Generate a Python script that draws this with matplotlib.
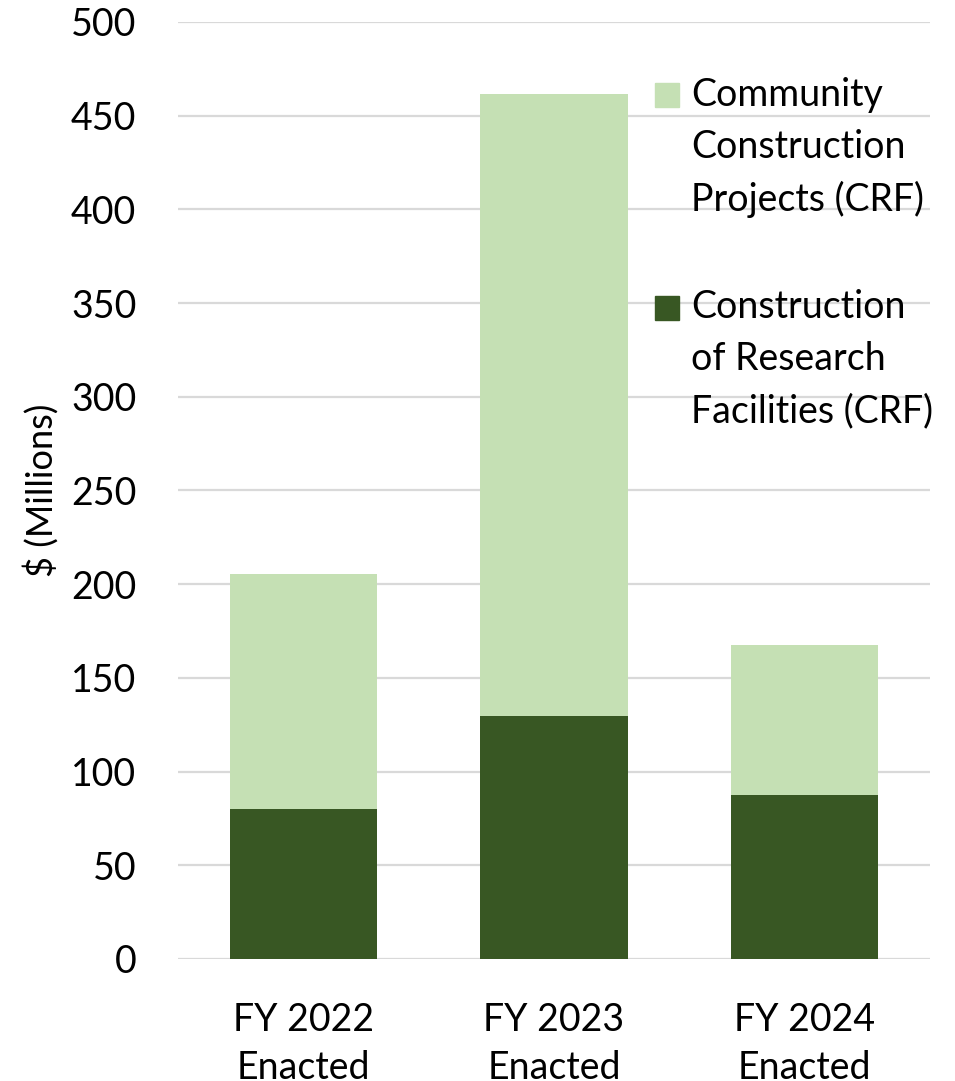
import matplotlib.pyplot as plt
from matplotlib.patches import Rectangle

plt.rcParams['font.family'] = ['Lato', 'DejaVu Sans']

years = ['FY 2022\nEnacted', 'FY 2023\nEnacted', 'FY 2024\nEnacted']
research_facilities = [80.0, 129.7, 87.6]
community_projects = [125.4, 332.1, 79.9]
labels = ['Community\nConstruction\nProjects (CRF)',
          'Construction\nof Research\nFacilities (CRF)']
light = '#C5E0B4'
dark = '#385723'

fig = plt.figure(figsize=(9.55, 10.81), dpi=100)
ax = fig.add_axes([0.1864, 0.1129, 0.7874, 0.8668])

x = range(len(years))
ax.bar(x, research_facilities, width=0.587, color=dark, zorder=3)
ax.bar(x, community_projects, width=0.587, bottom=research_facilities,
       color=light, zorder=3)

ax.set_xlim(-0.5, 2.5)
ax.set_ylim(0, 500)
ax.set_yticks(range(0, 501, 50))
ax.set_xticks(list(x))
ax.set_xticklabels(years, linespacing=1.42)
ax.tick_params(axis='both', length=0, labelsize=27)
ax.tick_params(axis='y', pad=30)
ax.tick_params(axis='x', pad=31)
ax.grid(axis='y', color='#D9D9D9', linewidth=1.6, zorder=0)
for s in ax.spines.values():
    s.set_visible(False)
ax.set_ylabel('$ (Millions)', fontsize=26, labelpad=9)

# legend drawn by hand so the swatch sits on the first line
for i, (lab, col) in enumerate(zip(labels, [light, dark])):
    y0 = 0.909 - i * 0.227
    ax.add_patch(Rectangle((0.634, y0), 0.0319, 0.0256, transform=ax.transAxes,
                           color=col, clip_on=False, zorder=4))
    ax.text(0.682, y0 + 0.0256 + 0.007, lab, transform=ax.transAxes,
            fontsize=27, va='top', ha='left', linespacing=1.55, zorder=4)

fig.savefig('out.png', dpi=100)
